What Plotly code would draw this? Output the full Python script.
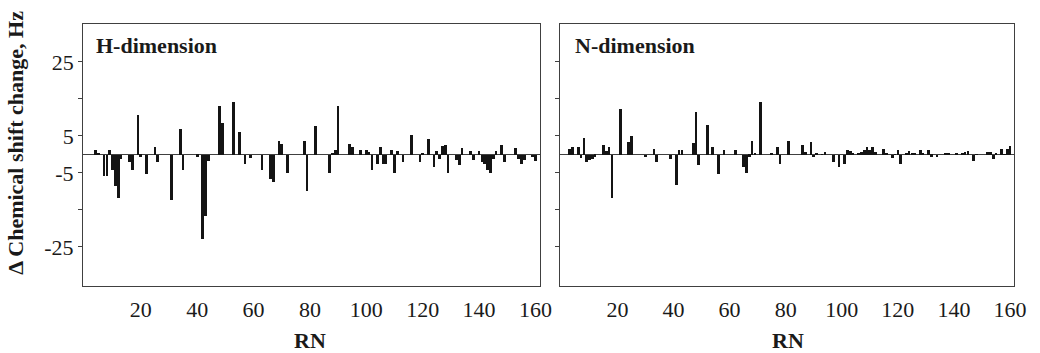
import plotly.graph_objects as go

# H-dimension (left panel): residue number and chemical shift change (Hz)
rn_h = [4, 5, 7, 8, 9, 10, 11, 12, 13, 16, 17, 19, 20, 22, 25, 26, 31, 34, 35, 40,
        42, 43, 44, 48, 49, 53, 55, 57, 59, 63, 66, 67, 69, 70, 72, 78, 79, 82, 87, 88,
        89, 90, 94, 95, 98, 100, 101, 102, 104, 105, 106, 107, 109, 110, 111, 113, 116, 119, 120, 122,
        124, 125, 126, 127, 128, 129, 132, 133, 134, 137, 138, 140, 141, 142, 143, 144, 145, 146, 148, 149,
        153, 154, 155, 156, 159, 160]
dh = [1.2, 0.6, -5.8, -5.8, 1.2, -4.2, -8.3, -11.6, -1.1, -1.8, -4.2, 10.9, -0.5, -5.1, 2.2, -1.8, -12.3, 7.0, -4.2, -0.5,
      -22.7, -16.4, -1.7, 13.3, 8.6, 14.2, 6.1, -2.6, -0.9, -4.2, -6.5, -7.4, 3.7, 3.0, -5.0, 3.7, -9.9, 7.7, -4.9, 0.6,
      1.2, 13.3, 3.0, 2.1, 1.2, 1.2, 0.8, -4.2, -2.4, 2.1, -2.6, -2.6, 1.2, -4.9, 1.1, -1.8, 5.3, -1.8, 0.5, 4.4,
      -3.4, 1.0, -1.0, 2.3, 2.7, -5.0, -1.5, -2.7, 1.8, 1.0, -1.5, 1.0, -1.8, -2.5, -4.1, -5.0, -1.0, 1.0, 2.6, -1.8,
      1.8, -1.0, -2.5, -1.5, -0.7, -1.7]

# N-dimension (right panel)
rn_n = [3, 4, 6, 7, 8, 9, 10, 11, 12, 15, 16, 17, 18, 21, 24, 25, 30, 33, 34, 39,
        41, 42, 43, 47, 48, 49, 52, 54, 56, 58, 62, 65, 66, 67, 68, 69, 71, 75, 77, 78,
        81, 86, 87, 89, 90, 91, 93, 94, 97, 99, 101, 102, 103, 104, 106, 107, 108, 109, 110, 111,
        112, 115, 116, 118, 119, 120, 121, 123, 124, 125, 126, 128, 129, 131, 132, 134, 137, 138, 141, 143,
        144, 145, 147, 148, 152, 153, 154, 155, 157, 158, 159, 160]
dn = [1.5, 2.2, 2.2, -0.8, 4.5, -2.0, -1.4, -1.0, -0.5, 2.8, 1.0, 2.0, -11.7, 12.3, 3.4, 5.2, -0.6, 1.5, -2.0, -1.0,
      -8.1, 1.4, 1.4, 3.1, 11.7, -2.8, 8.1, 2.0, -5.2, 1.4, 1.4, -3.3, -4.9, -0.5, 3.8, 0.3, 14.4, 0.3, 2.2, -2.5,
      3.8, 2.8, 0.9, 3.6, -0.6, 0.6, 0.2, 0.9, -2.0, -3.3, -2.5, 1.4, 1.0, 0.3, 0.5, 0.9, 1.3, 2.0, 1.4, 2.1,
      0.8, 1.7, 0.5, -0.8, 0.2, 1.3, -2.5, 0.5, 1.0, 0.6, 0.3, 1.3, 0.3, 1.3, -0.5, -0.7, 0.4, 0.4, 0.4, 0.5,
      0.9, 1.1, -1.6, 0.2, 0.7, 0.7, -1.0, 0.5, 1.6, 0.2, 1.6, 2.5]

x_ticks = [20, 40, 60, 80, 100, 120, 140, 160]
y_ticks = [25, 15, 5, -5, -15, -25]
y_ticktext = ["25", "", "5", "-5", "", "-25"]

W, H = 1040, 353
FONT = "Liberation Serif"
TXT = "#1a1a1a"
FS = 22

fig = go.Figure()
fig.add_trace(go.Bar(x=rn_h, y=dh, marker=dict(color="#141414", line=dict(width=0)),
                     width=0.95, xaxis="x", yaxis="y", showlegend=False))
fig.add_trace(go.Bar(x=rn_n, y=dn, marker=dict(color="#141414", line=dict(width=0)),
                     width=0.95, xaxis="x2", yaxis="y2", showlegend=False))

def px_x(p):
    return p / W

def px_y(p):
    return 1 - p / H

ydom = [px_y(286), px_y(23.5)]
xcommon = dict(range=[-0.5, 161.5], tickvals=x_ticks, showgrid=False, zeroline=False,
               showline=True, linecolor="#404040", linewidth=1, mirror=True,
               ticks="outside", ticklen=4, tickcolor="rgba(0,0,0,0)",
               tickfont=dict(family=FONT, size=FS, color=TXT))
ycommon = dict(range=[-35.6, 35.4], tickvals=y_ticks, showgrid=False,
               zeroline=True, zerolinecolor="#404040", zerolinewidth=1,
               showline=True, linecolor="#404040", linewidth=1, mirror=True,
               ticks="outside", ticklen=4, tickcolor="#404040",
               tickfont=dict(family=FONT, size=FS, color=TXT))

fig.update_layout(
    width=W, height=H,
    margin=dict(l=0, r=0, t=0, b=0),
    paper_bgcolor="white", plot_bgcolor="white",
    bargap=0,
    xaxis=dict(domain=[px_x(84), px_x(546)], anchor="y", **xcommon),
    xaxis2=dict(domain=[px_x(566.5), px_x(1026)], anchor="y2", **xcommon),
    yaxis=dict(domain=ydom, anchor="x", ticktext=y_ticktext, **ycommon),
    yaxis2=dict(domain=ydom, anchor="x2", ticktext=[""] * len(y_ticks), **ycommon),
    annotations=[
        dict(text="<b>H-dimension</b>", x=px_x(95), y=px_y(45), xref="paper", yref="paper",
             xanchor="left", yanchor="middle", showarrow=False,
             font=dict(family=FONT, size=FS, color=TXT)),
        dict(text="<b>N-dimension</b>", x=px_x(580), y=px_y(45), xref="paper", yref="paper",
             xanchor="left", yanchor="middle", showarrow=False,
             font=dict(family=FONT, size=FS, color=TXT)),
        dict(text="<b>RN</b>", x=px_x(314), y=px_y(340), xref="paper", yref="paper",
             xanchor="center", yanchor="middle", showarrow=False,
             font=dict(family=FONT, size=FS, color=TXT)),
        dict(text="<b>RN</b>", x=px_x(797), y=px_y(340), xref="paper", yref="paper",
             xanchor="center", yanchor="middle", showarrow=False,
             font=dict(family=FONT, size=FS, color=TXT)),
        dict(text="<b>Δ Chemical shift change, Hz</b>", x=px_x(16), y=px_y(143),
             xref="paper", yref="paper", xanchor="center", yanchor="middle",
             textangle=-90, showarrow=False,
             font=dict(family=FONT, size=FS, color=TXT)),
    ],
)

fig.write_html("out.html")
